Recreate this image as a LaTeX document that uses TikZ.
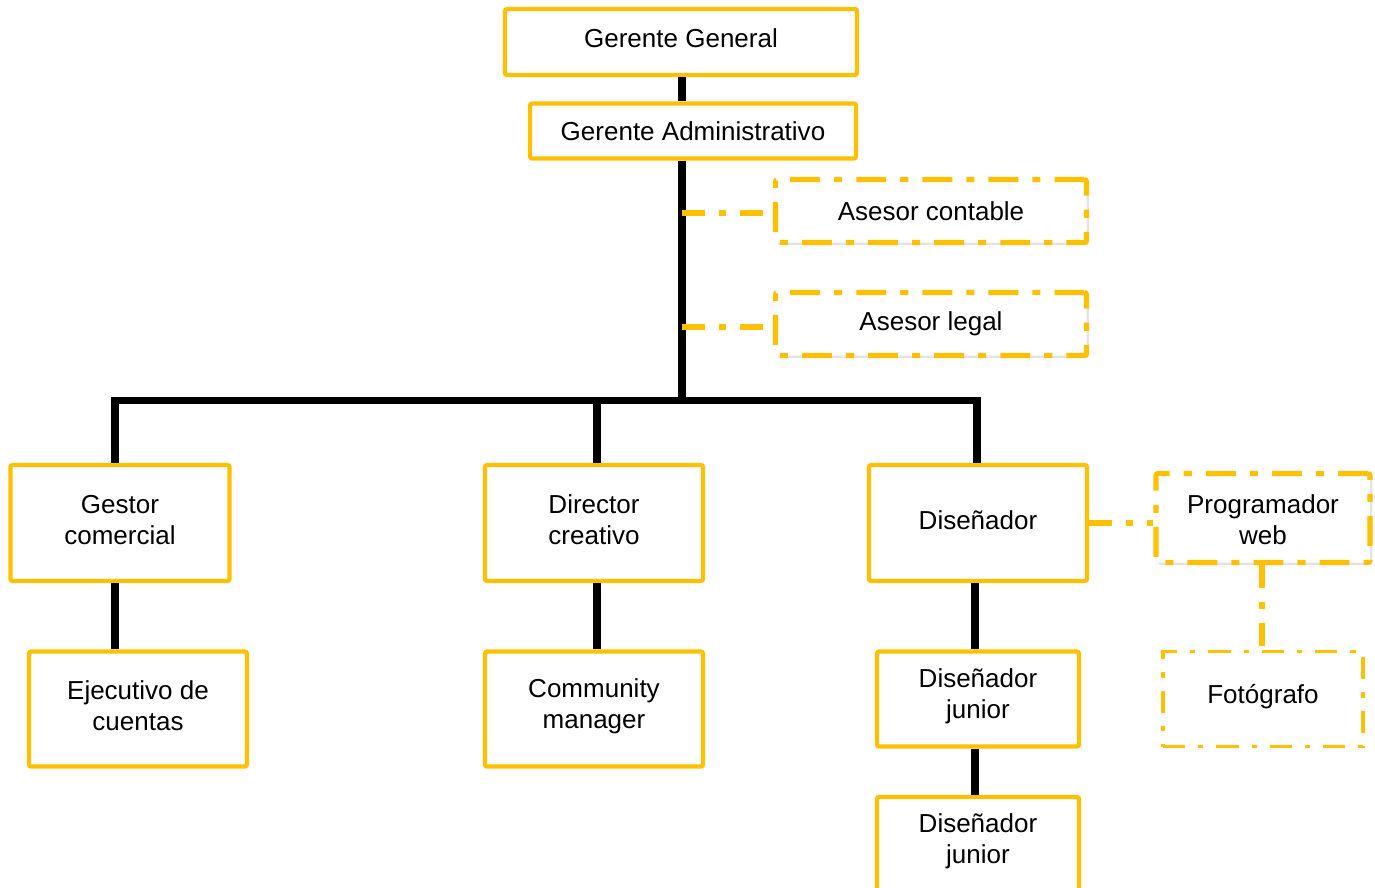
\documentclass[tikz,border=0pt]{standalone}
\usepackage{fontspec}
\setmainfont{Liberation Sans}
\usetikzlibrary{shadows}
\definecolor{gold}{HTML}{FFC000}
\begin{document}
\begin{tikzpicture}[x=0.1mm,y=-0.1mm,
  font=\fontsize{7.4pt}{8.8pt}\selectfont,
  box/.style={draw=gold, line width=1.2pt, fill=white, rounded corners=0.6pt,
    align=center, inner sep=0pt},
  advbox/.style={box, line width=1.45pt,
    dash pattern=on 8.5pt off 4pt on 2.3pt off 4pt,
    drop shadow={shadow xshift=0.7pt, shadow yshift=-0.7pt, fill=black!18, opacity=0.6}},
  photobox/.style={box, line width=1.1pt, rounded corners=0pt,
    dash pattern=on 6.3pt off 3.7pt on 1.5pt off 3.7pt},
  lbl/.style={align=center, inner sep=0pt},
  link/.style={line width=2pt, black},
  dlink/.style={gold, line width=1.5pt, dash pattern=on 6.5pt off 4pt on 2pt off 4pt},
]
\useasboundingbox (0,0) rectangle (1375,887);
\clip (0,0) rectangle (1375,887);

% top management
\node[box, minimum width=352*0.1mm, minimum height=66*0.1mm] (gg) at (681,42) {};
\node[lbl] (ggt) at ([yshift=1.1pt]gg.center) {Gerente General};
\node[box, minimum width=326*0.1mm, minimum height=55*0.1mm] (ga) at (693,131) {Gerente Administrativo};

% advisors
\node[advbox, minimum width=311*0.1mm, minimum height=63*0.1mm] (ac) at (931,211) {Asesor contable};
\node[advbox, minimum width=311*0.1mm, minimum height=63*0.1mm] (al) at (931,324) {Asesor legal};

% departments
\node[box, minimum width=219*0.1mm, minimum height=116*0.1mm] (gc) at (120,523) {};
\node[lbl] (gct) at ([yshift=0.85pt]gc.center) {Gestor\\comercial};
\node[box, minimum width=218*0.1mm, minimum height=116*0.1mm] (dc) at (594,523) {};
\node[lbl] (dct) at ([yshift=0.85pt]dc.center) {Director\\creativo};
\node[box, minimum width=218*0.1mm, minimum height=116*0.1mm] (di) at (978,523) {};
\node[lbl] (dit) at ([yshift=0.85pt]di.center) {Diseñador};
\node[advbox, minimum width=214*0.1mm, minimum height=89*0.1mm] (pw) at (1263,518) {};
\node[lbl] (pwt) at ([yshift=-0.55pt]pw.center) {Programador\\web};

% second level
\node[box, minimum width=218*0.1mm, minimum height=115*0.1mm] (ec) at (138,709) {};
\node[lbl] (ect) at ([yshift=0.85pt]ec.center) {Ejecutivo de\\cuentas};
\node[box, minimum width=218*0.1mm, minimum height=115*0.1mm] (cm) at (594,709) {};
\node[lbl] (cmt) at ([yshift=0.85pt]cm.center) {Community\\manager};
\node[box, minimum width=202*0.1mm, minimum height=95*0.1mm] (dj1) at (978,699) {};
\node[lbl] (dj1t) at ([yshift=0.85pt]dj1.center) {Diseñador\\junior};
\node[box, minimum width=202*0.1mm, minimum height=110*0.1mm] (dj2) at (978,852) {};
\node[lbl] (dj2t) at ([yshift=3.1pt]dj2.center) {Diseñador\\junior};
\node[photobox, minimum width=200*0.1mm, minimum height=95*0.1mm] (fo) at (1263,699) {};
\node[lbl] (fot) at ([yshift=0.55pt]fo.center) {Fotógrafo};

% trunk and bus
\coordinate (trunk) at (682,400);
\coordinate (busL) at (115,400);
\coordinate (busM) at (597,400);
\coordinate (busR) at (977,400);

\draw[link] (gg.south -| trunk) -- (ga.north -| trunk);
\draw[link] (ga.south -| trunk) -- (trunk);
\draw[link, line cap=rect] (busL) -- (busR);
\draw[link] (busL) -- (gc.north -| busL);
\draw[link] (busM) -- (dc.north -| busM);
\draw[link] (busR) -- (di.north -| busR);

\draw[link] (gc.south -| busL) -- (ec.north -| busL);
\draw[link] (dc.south -| busM) -- (cm.north -| busM);
\coordinate (dcol) at (975,0);
\draw[link] (di.south -| dcol) -- (dj1.north -| dcol);
\draw[link] (dj1.south -| dcol) -- (dj2.north -| dcol);

% dotted staff links
\coordinate (acY) at (682,213);
\coordinate (alY) at (682,327);
\draw[dlink] (acY) -- (ac.west |- acY);
\draw[dlink] (alY) -- (al.west |- alY);
\coordinate (pwY) at (0,523);
\draw[dlink] (di.east |- pwY) -- (pw.west |- pwY);
\coordinate (pwX) at (1262,0);
\draw[dlink] (pw.south -| pwX) -- (fo.north -| pwX);
\end{tikzpicture}
\end{document}
